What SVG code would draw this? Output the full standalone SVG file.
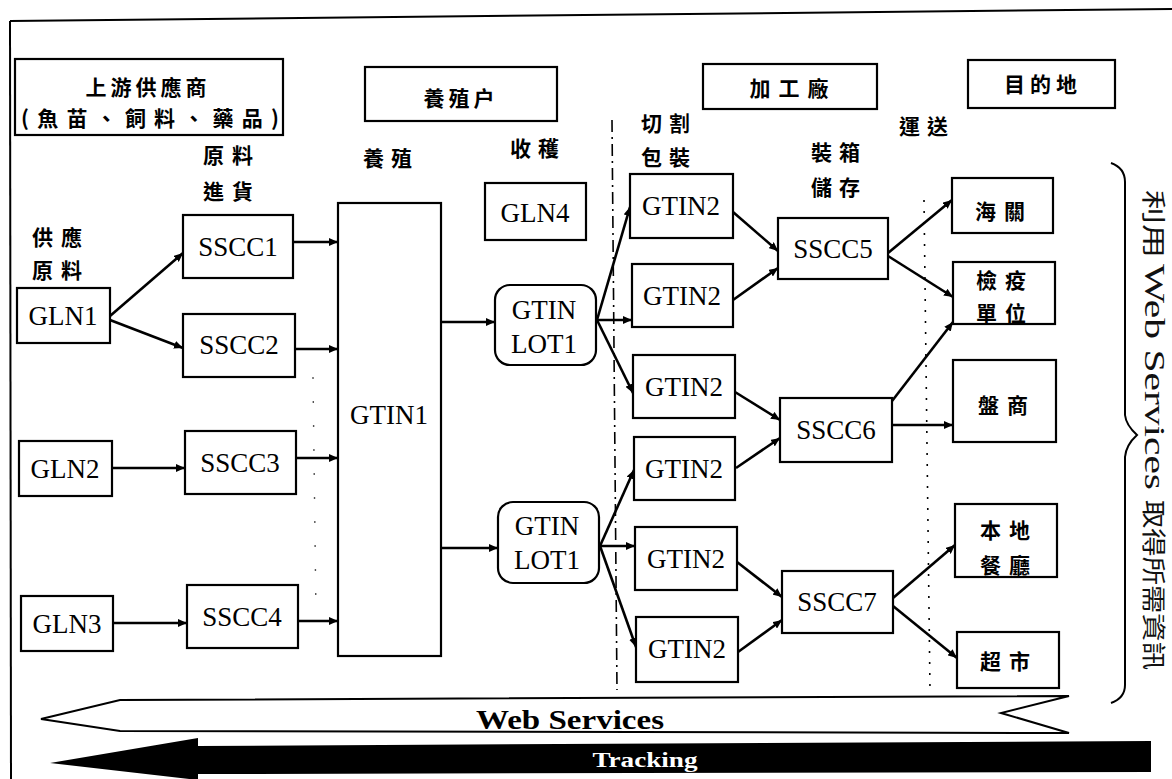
<svg xmlns="http://www.w3.org/2000/svg" width="1172" height="779" viewBox="0 0 1172 779">
<defs>
<marker id="ah" markerUnits="userSpaceOnUse" markerWidth="9" markerHeight="8" refX="9" refY="4" orient="auto">
<path d="M0,0 L9,4 L0,8 z" fill="#000"/>
</marker>
<style>
.box{fill:#fff;stroke:#000;stroke-width:2.2}
.cn{font-family:"Noto Sans CJK TC","Noto Sans CJK SC",sans-serif;font-weight:bold;font-size:21px;fill:#000;text-anchor:middle;dominant-baseline:central}
.lt{font-family:"Liberation Serif","Times New Roman",serif;font-size:27px;fill:#000;text-anchor:middle;dominant-baseline:central}
.con line{stroke:#000;stroke-width:2.6;marker-end:url(#ah)}
.vt{font-family:"Liberation Serif","Noto Sans CJK TC",serif;fill:#111}
</style>
</defs>
<rect x="0" y="0" width="1172" height="779" fill="#fff"/>
<!-- frame -->
<g id="frame" fill="none" stroke="#000" stroke-width="2">
<line x1="10" y1="21" x2="1172" y2="9"/>
<line x1="10" y1="21" x2="11" y2="779"/>
</g>
<!-- guide lines -->
<g id="guides" fill="none" stroke="#000">
<line x1="612" y1="120" x2="617" y2="690" stroke-width="1.6" stroke-dasharray="12 5 2 5"/>
<line x1="924" y1="200" x2="930" y2="690" stroke-width="1.6" stroke-dasharray="2 9"/>
<line x1="313" y1="377" x2="316" y2="615" stroke-width="1.4" stroke-dasharray="2 22" stroke="#555"/>
</g>
<!-- header boxes -->
<g id="hdr-upstream"><rect class="box" x="15" y="59" width="268" height="76"/>
<text class="cn" x="148" y="86" font-size="23" letter-spacing="4">上游供應商</text>
<text class="cn" x="150" y="117" font-size="22" textLength="258" lengthAdjust="spacing">(魚苗、飼料、藥品)</text></g>
<g id="hdr-farm"><rect class="box" x="365" y="67" width="192" height="54"/>
<text class="cn" x="461" y="97" letter-spacing="4">養殖户</text></g>
<g id="hdr-plant"><rect class="box" x="703" y="64" width="174" height="45"/>
<text class="cn" x="793" y="87" letter-spacing="8">加工廠</text></g>
<g id="hdr-dest"><rect class="box" x="968" y="60" width="147" height="48"/>
<text class="cn" x="1043" y="83" letter-spacing="5">目的地</text></g>
<!-- stage labels -->
<g id="stage-labels">
<text class="cn" x="232" y="154" letter-spacing="8">原料</text>
<text class="cn" x="232" y="190" letter-spacing="8">進貨</text>
<text class="cn" x="61" y="236" letter-spacing="8">供應</text>
<text class="cn" x="61" y="269" letter-spacing="8">原料</text>
<text class="cn" x="391" y="157" letter-spacing="7">養殖</text>
<text class="cn" x="538" y="147" letter-spacing="7">收穫</text>
<text class="cn" x="669" y="122" letter-spacing="7">切割</text>
<text class="cn" x="669" y="156" letter-spacing="7">包裝</text>
<text class="cn" x="839" y="151" letter-spacing="7">裝箱</text>
<text class="cn" x="839" y="186" letter-spacing="7">儲存</text>
<text class="cn" x="927" y="125" letter-spacing="7">運送</text>
</g>
<!-- connectors -->
<g id="connectors" class="con">
<line x1="110" y1="316" x2="183" y2="253"/>
<line x1="110" y1="320" x2="183" y2="348"/>
<line x1="112" y1="468" x2="185" y2="468"/>
<line x1="113" y1="623" x2="187" y2="623"/>
<line x1="293" y1="242" x2="338" y2="242"/>
<line x1="295" y1="349" x2="338" y2="349"/>
<line x1="296" y1="458" x2="338" y2="458"/>
<line x1="298" y1="621" x2="338" y2="621"/>
<line x1="441" y1="322" x2="495" y2="322"/>
<line x1="441" y1="548" x2="498" y2="548"/>
<line x1="597" y1="320" x2="630" y2="207"/>
<line x1="597" y1="320" x2="632" y2="320"/>
<line x1="597" y1="320" x2="633" y2="393"/>
<line x1="600" y1="546" x2="634" y2="470"/>
<line x1="600" y1="546" x2="635" y2="546"/>
<line x1="600" y1="546" x2="636" y2="647"/>
<line x1="733" y1="212" x2="778" y2="251"/>
<line x1="733" y1="300" x2="778" y2="268"/>
<line x1="735" y1="392" x2="780" y2="420"/>
<line x1="736" y1="468" x2="780" y2="438"/>
<line x1="737" y1="562" x2="782" y2="597"/>
<line x1="738" y1="652" x2="782" y2="620"/>
<line x1="888" y1="253" x2="952" y2="200"/>
<line x1="888" y1="256" x2="953" y2="297"/>
<line x1="882" y1="414" x2="953" y2="322"/>
<line x1="892" y1="425" x2="953" y2="425"/>
<line x1="893" y1="598" x2="955" y2="545"/>
<line x1="893" y1="606" x2="957" y2="658"/>
</g>
<!-- nodes -->
<g id="GLN1"><rect class="box" x="17" y="288" width="93" height="55"/><text class="lt" x="63" y="316">GLN1</text></g>
<g id="GLN2"><rect class="box" x="19" y="441" width="93" height="55"/><text class="lt" x="65" y="469">GLN2</text></g>
<g id="GLN3"><rect class="box" x="21" y="596" width="92" height="55"/><text class="lt" x="67" y="624">GLN3</text></g>
<g id="SSCC1"><rect class="box" x="183" y="215" width="110" height="63"/><text class="lt" x="238" y="247">SSCC1</text></g>
<g id="SSCC2"><rect class="box" x="183" y="314" width="112" height="63"/><text class="lt" x="239" y="345">SSCC2</text></g>
<g id="SSCC3"><rect class="box" x="185" y="431" width="111" height="63"/><text class="lt" x="240" y="463">SSCC3</text></g>
<g id="SSCC4"><rect class="box" x="187" y="585" width="111" height="63"/><text class="lt" x="242" y="617">SSCC4</text></g>
<g id="GTIN1"><rect class="box" x="338" y="203" width="103" height="453"/><text class="lt" x="389" y="415">GTIN1</text></g>
<g id="GLN4"><rect class="box" x="485" y="183" width="101" height="57"/><text class="lt" x="535" y="213">GLN4</text></g>
<g id="LOT1a"><rect class="box" x="495" y="285" width="101" height="80" rx="15"/><text class="lt" x="544" y="310">GTIN</text><text class="lt" x="544" y="344">LOT1</text></g>
<g id="LOT1b"><rect class="box" x="498" y="502" width="101" height="81" rx="15"/><text class="lt" x="547" y="526">GTIN</text><text class="lt" x="547" y="560">LOT1</text></g>
<g id="GTIN2-1"><rect class="box" x="630" y="174" width="103" height="64"/><text class="lt" x="681" y="206">GTIN2</text></g>
<g id="GTIN2-2"><rect class="box" x="632" y="264" width="101" height="63"/><text class="lt" x="682" y="296">GTIN2</text></g>
<g id="GTIN2-3"><rect class="box" x="633" y="355" width="102" height="63"/><text class="lt" x="684" y="387">GTIN2</text></g>
<g id="GTIN2-4"><rect class="box" x="634" y="437" width="101" height="63"/><text class="lt" x="684" y="469">GTIN2</text></g>
<g id="GTIN2-5"><rect class="box" x="635" y="527" width="102" height="63"/><text class="lt" x="686" y="559">GTIN2</text></g>
<g id="GTIN2-6"><rect class="box" x="636" y="617" width="102" height="65"/><text class="lt" x="687" y="649">GTIN2</text></g>
<g id="SSCC5"><rect class="box" x="778" y="218" width="110" height="61"/><text class="lt" x="833" y="249">SSCC5</text></g>
<g id="SSCC6"><rect class="box" x="780" y="398" width="112" height="64"/><text class="lt" x="836" y="430">SSCC6</text></g>
<g id="SSCC7"><rect class="box" x="782" y="571" width="111" height="62"/><text class="lt" x="837" y="602">SSCC7</text></g>
<g id="customs"><rect class="box" x="952" y="178" width="101" height="55"/><text class="cn" x="1004" y="210" letter-spacing="8">海關</text></g>
<g id="quarantine"><rect class="box" x="953" y="262" width="102" height="62"/><text class="cn" x="1005" y="279" letter-spacing="8">檢疫</text><text class="cn" x="1005" y="312" letter-spacing="8">單位</text></g>
<g id="dealer"><rect class="box" x="953" y="360" width="103" height="82"/><text class="cn" x="1007" y="404" letter-spacing="8">盤商</text></g>
<g id="restaurant"><rect class="box" x="955" y="504" width="102" height="73"/><text class="cn" x="1009" y="529" letter-spacing="8">本地</text><text class="cn" x="1009" y="564" letter-spacing="8">餐廳</text></g>
<g id="supermarket"><rect class="box" x="957" y="632" width="102" height="56"/><text class="cn" x="1009" y="660" letter-spacing="8">超市</text></g>
<!-- brace and vertical text -->
<g id="brace">
<path d="M1111,163 Q1125,168 1125,182 L1125,415 Q1126,425 1137,435 Q1126,445 1125,457 L1125,685 Q1125,698 1111,703" fill="none" stroke="#000" stroke-width="2"/>
<text class="vt" transform="translate(1145,190) rotate(90)" x="0" y="0" font-size="24" textLength="68" lengthAdjust="spacingAndGlyphs">利用</text>
<text class="vt" transform="translate(1145,264) rotate(90)" x="0" y="0" font-size="30" textLength="226" lengthAdjust="spacingAndGlyphs">Web Services</text>
<text class="vt" transform="translate(1145,500) rotate(90)" x="0" y="0" font-size="24" textLength="170" lengthAdjust="spacingAndGlyphs">取得所需資訊</text>
</g>
<!-- bottom arrows -->
<g id="ws-arrow">
<polygon points="41,719 120,700 1069,696 1001,713 1069,733 120,731" fill="#fff" stroke="#000" stroke-width="2"/>
<text x="570" y="729" text-anchor="middle" font-family="'Liberation Serif',serif" font-weight="bold" font-size="27" textLength="188" lengthAdjust="spacingAndGlyphs">Web Services</text>
</g>
<g id="tracking-arrow">
<polygon points="50,763 198,738 198,746 1151,741 1151,772 198,774 198,780" fill="#000"/>
<text x="645" y="767" text-anchor="middle" font-family="'Liberation Serif',serif" font-weight="bold" font-size="20" fill="#fff" textLength="105" lengthAdjust="spacingAndGlyphs">Tracking</text>
</g>
</svg>
